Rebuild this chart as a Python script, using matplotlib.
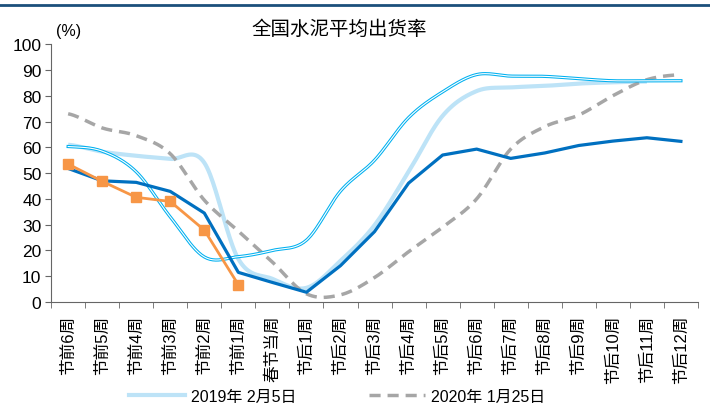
import matplotlib
matplotlib.use('Agg')
import matplotlib.pyplot as plt
from matplotlib.lines import Line2D
import numpy as np

plt.rcParams['font.family'] = ['Liberation Sans', 'Noto Sans CJK SC', 'DejaVu Sans']

weeks = ['节前6周', '节前5周', '节前4周', '节前3周', '节前2周', '节前1周', '春节当周',
         '节后1周', '节后2周', '节后3周', '节后4周', '节后5周', '节后6周', '节后7周',
         '节后8周', '节后9周', '节后10周', '节后11周', '节后12周']

# shipment rate (%) by week around the Spring Festival
rate_2019 = [61, 58.3, 56.7, 55.5, 54, 16.7, 9, 5.5, 16, 29.8, 50.5, 72.2, 81.8,
             83.2, 83.8, 84.7, 85.2, 85.5]
rate_2020 = [73, 67.5, 64.5, 57.5, 39.5, 27.5, 15.5, 3.2, 2.8, 9.5, 19.5, 29, 40,
             59.3, 68, 72.5, 80, 86.2, 88.2]
rate_dbl = [60.3, 58.5, 50.5, 33, 17.5, 17.6, 20, 24, 43, 55, 71.5, 81.5, 88.2,
            87.6, 87.5, 86.6, 85.8, 85.8, 85.8]
rate_dark = [51.8, 47, 46.4, 42.9, 34.5, 11.5, 7.6, 3.8, 14.1, 27.3, 46.1, 57,
             59.3, 55.7, 57.8, 60.7, 62.4, 63.7, 62.3]
rate_orange = [53.5, 46.8, 40.6, 39, 27.9, 6.7]

legend_labels = ['2019年 2月5日', '2020年 1月25日']


def smooth(y, n=24):
    # catmull-rom curve through the weekly points
    y = np.asarray(y, float)
    xs, ys = [], []
    for i in range(len(y) - 1):
        y0 = y[i - 1] if i > 0 else y[i]
        y3 = y[i + 2] if i + 2 < len(y) else y[i + 1]
        m1 = (y[i + 1] - y0) / 2
        m2 = (y3 - y[i]) / 2
        t = np.linspace(0, 1, n, endpoint=False)
        h00 = 2 * t**3 - 3 * t**2 + 1
        h10 = t**3 - 2 * t**2 + t
        h01 = -2 * t**3 + 3 * t**2
        h11 = t**3 - t**2
        xs.append(i + t)
        ys.append(h00 * y[i] + h10 * m1 + h01 * y[i + 1] + h11 * m2)
    xs.append([len(y) - 1])
    ys.append([y[-1]])
    return np.concatenate(xs), np.concatenate(ys)


fig = plt.figure(figsize=(7.1, 4.14), dpi=100)
ax = fig.add_axes([0.072, 0.268, 0.911, 0.623])

x, y = smooth(rate_2019)
ax.plot(x, y, color='#BDE3F7', lw=3, solid_capstyle='butt', zorder=2)
x, y = smooth(rate_2020)
ax.plot(x, y, color='#A6A6A6', lw=2.5, ls=(0, (3.2, 2)), zorder=3)
x, y = smooth(rate_dbl)
ax.plot(x, y, color='#00B0F0', lw=2.3, zorder=4)
ax.plot(x, y, color='white', lw=0.8, zorder=4)
ax.plot(range(len(rate_dark)), rate_dark, color='#0070C0', lw=2.3, zorder=5)
ax.plot(range(len(rate_orange)), rate_orange, color='#F79646', lw=2,
        marker='s', markersize=7.5, zorder=6)

ax.set_xlim(-0.5, len(weeks) - 0.5)
ax.set_ylim(0, 100)
ax.set_yticks(range(0, 101, 10))
ax.tick_params(axis='y', labelsize=12.5, length=4, color='#666666', pad=3)
ax.set_xticks(range(len(weeks)))
ax.set_xticklabels(weeks, rotation=90, fontsize=12, va='top')
ax.set_xticks(np.arange(-0.5, len(weeks), 1), minor=True)
ax.tick_params(axis='x', which='major', length=0, pad=9)
ax.tick_params(axis='x', which='minor', length=4, color='#666666')
for side in ['top', 'right']:
    ax.spines[side].set_visible(False)
for side in ['left', 'bottom']:
    ax.spines[side].set_color('#666666')

ax.text(0.008, 1.035, '(%)', transform=ax.transAxes, fontsize=11.5)
fig.text(0.478, 0.93, '全国水泥平均出货率', ha='center', va='center',
         fontsize=14, family=['Noto Sans CJK SC'])

# dark band across the top of the page
fig.add_artist(Line2D([0, 1], [0.986, 0.986], color='#1B4F7B', lw=2))

handles = [Line2D([], [], color='#BDE3F7', lw=3),
           Line2D([], [], color='#A6A6A6', lw=2.5, ls=(0, (3.2, 2)))]
fig.legend(handles, legend_labels, loc='center', bbox_to_anchor=(0.475, 0.041),
           ncol=2, frameon=False, fontsize=11.5, handlelength=3.5,
           handletextpad=0.4, columnspacing=4.5)

fig.savefig('out.png', dpi=100)
